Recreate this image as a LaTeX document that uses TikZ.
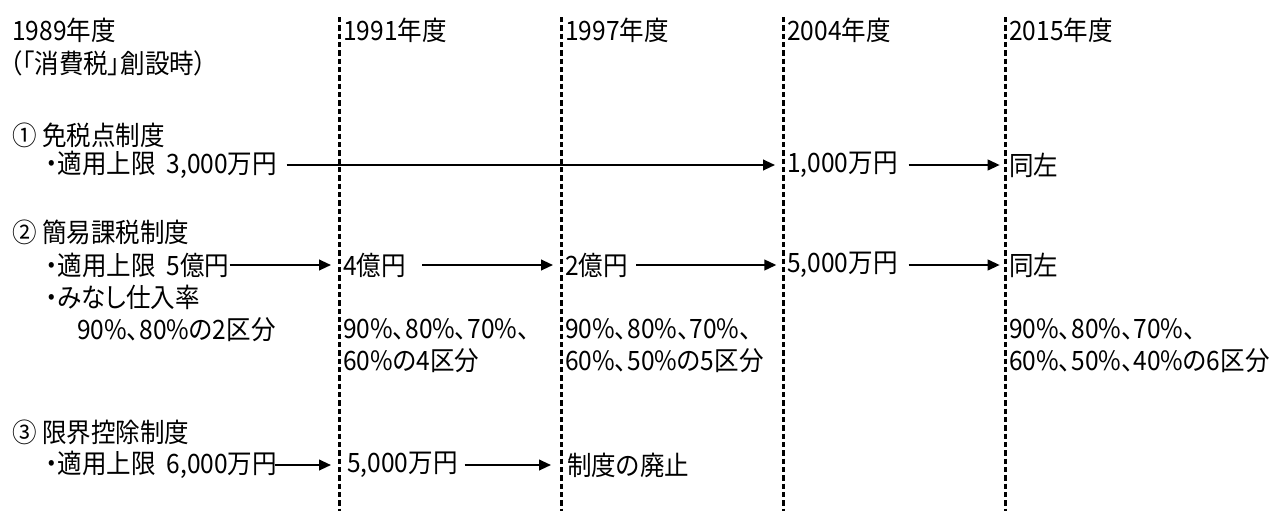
\documentclass[tikz,border=0pt]{standalone}
\usepackage{fontspec}
\setmainfont[FakeStretch=0.92,RawFeature=+palt]{Noto Sans CJK JP}
\usetikzlibrary{arrows.meta}
\begin{document}
\begin{tikzpicture}[x=0.75pt,y=-0.75pt,
  txt/.style={anchor=west,inner sep=0pt,align=left,font=\fontsize{20pt}{24pt}\selectfont},
  sep/.style={line width=2.25pt,dash pattern=on 4pt off 2.25pt},
  arr/.style={line width=1.5pt,-{Triangle[length=9pt,width=8pt]}}]
\useasboundingbox (0,0) rectangle (1277,511);
\fill[white] (0,0) rectangle (1277,511);
% separators
\foreach \n/\x in {1/339,2/561,3/783,4/1005}{
  \coordinate (s\n t) at (\x,17);
  \coordinate (s\n b) at (\x,511);
  \draw[sep] (s\n t) -- (s\n b);
}
% headers
\node[txt] (h0) at (12,30) {1989年度};
\node[txt] (h0b) at (10,63) {（「消費税」創設時）};
\node[txt] (h1) at (343,30) {1991年度};
\node[txt] (h2) at (565,30) {1997年度};
\node[txt] (h3) at (787,30) {2004年度};
\node[txt] (h4) at (1009,30) {2015年度};
% section 1
\node[txt] (t1) at (12,135) {① 免税点制度};
\node[txt] (r1a) at (45,165) {・適用上限\ \ 3,000万円};
\node[txt] (r1b) at (787,165) {1,000万円};
\node[txt] (r1c) at (1009,165) {同左};
\draw[arr] ([xshift=7pt]r1a.east) -- ([xshift=-9pt]r1b.west);
\draw[arr] ([xshift=8pt]r1b.east) -- ([xshift=-7pt]r1c.west);
% section 2
\node[txt] (t2) at (12,232) {② 簡易課税制度};
\node[txt] (r2a) at (45,265) {・適用上限\ \ 5億円};
\node[txt] (r2b) at (343,265) {4億円};
\node[txt] (r2c) at (565,265) {2億円};
\node[txt] (r2d) at (787,265) {5,000万円};
\node[txt] (r2e) at (1009,265) {同左};
\draw[arr] (r2a.east) -- ([xshift=-9pt]r2b.west);
\draw[arr] ([xshift=12pt]r2b.east) -- ([xshift=-9pt]r2c.west);
\draw[arr] ([xshift=6pt]r2c.east) -- ([xshift=-8pt]r2d.west);
\draw[arr] ([xshift=8pt]r2d.east) -- ([xshift=-7pt]r2e.west);
\node[txt] (m2) at (45,297) {・みなし仕入率};
\node[txt] (p0) at (77,330) {90\%、80\%の2区分};
\node[txt] (p1) at (343,346) {90\%、80\%、70\%、\\60\%の4区分};
\node[txt] (p2) at (565,346) {90\%、80\%、70\%、\\60\%、50\%の5区分};
\node[txt] (p4) at (1009,346) {90\%、80\%、70\%、\\60\%、50\%、40\%の6区分};
% section 3
\node[txt] (t3) at (12,432) {③ 限界控除制度};
\node[txt] (r3a) at (45,465) {・適用上限\ \ 6,000万円};
\node[txt] (r3b) at (347,465) {5,000万円};
\node[txt] (r3c) at (567,465) {制度の廃止};
\draw[arr] ([xshift=-2pt]r3a.east) -- ([xshift=-12pt]r3b.west);
\draw[arr] ([xshift=5pt]r3b.east) -- ([xshift=-12pt]r3c.west);
\end{tikzpicture}
\end{document}
